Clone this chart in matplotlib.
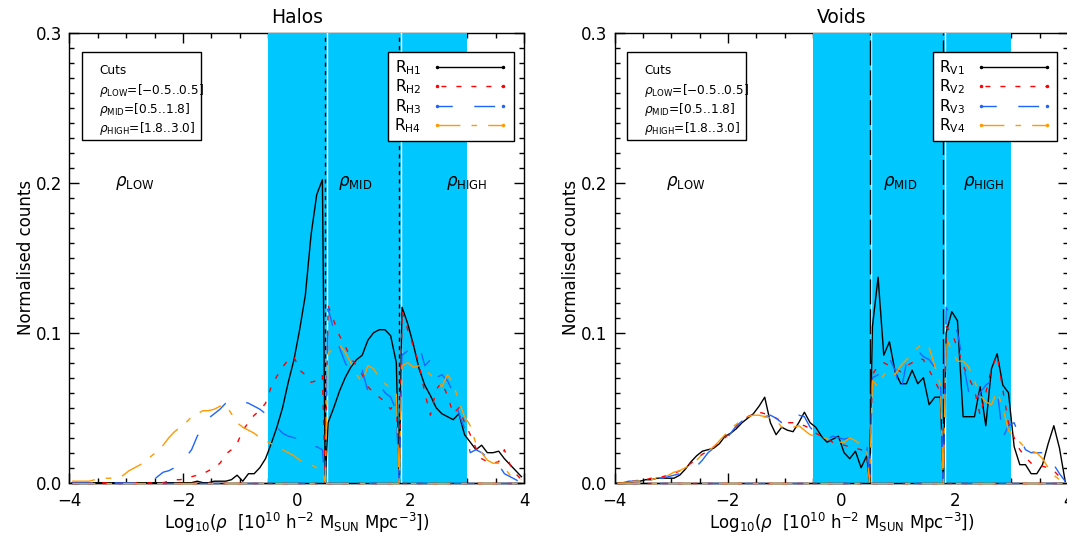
import numpy as np
import matplotlib
matplotlib.use('Agg')
import matplotlib.pyplot as plt
from matplotlib.lines import Line2D
from matplotlib.patches import Rectangle
import matplotlib.transforms as mtransforms
from matplotlib.ticker import MultipleLocator, FixedLocator, FixedFormatter

plt.rcParams['font.family'] = ['DejaVu Sans']
plt.rcParams['mathtext.fontset'] = 'dejavusans'

# ---------------- data ----------------
bin_centres = np.round(np.arange(-3.95, 4.0, 0.1), 2)   # 80 histogram bins, width 0.1
cuts = [0.5, 1.8]              # density cuts (vertical lines)
shade_range = [-0.5, 3.0]      # shaded band
region_labels = [r'$\rho_{\rm LOW}$', r'$\rho_{\rm MID}$', r'$\rho_{\rm HIGH}$']
halo_label_x = [-2.85, 1.03, 2.99]
void_label_x = [-2.74, 1.04, 2.51]
label_y = 0.2
cut_text = ['Cuts', r'$\rho_{\rm LOW}$=[$-$0.5..0.5]', r'$\rho_{\rm MID}$=[0.5..1.8]',
            r'$\rho_{\rm HIGH}$=[1.8..3.0]']

# Halos
RH1 = [0, 0, 0, 0, 0, 0, 0, 0, 0, 0,
       0, 0, 0, 0, 0, 0, 0, 0, 0, 0,
       0, 0, 0.001, 0, 0, 0.001, 0.001, 0.001, 0.002, 0.005,
       0.001, 0.006, 0.006, 0.010, 0.016, 0.026, 0.037, 0.050, 0.067, 0.082,
       0.102, 0.125, 0.165, 0.192, 0.202,
       0.040, 0.050, 0.061, 0.070, 0.077, 0.082, 0.085, 0.095, 0.100, 0.102, 0.102, 0.098, 0.080,
       0.117, 0.106, 0.092, 0.076, 0.065, 0.058, 0.050, 0.046, 0.044, 0.042, 0.046, 0.032,
       0.027, 0.022, 0.025, 0.020, 0.020, 0.021, 0.016, 0.012, 0.008, 0.004]
RH2 = [0, 0, 0, 0, 0, 0, 0, 0, 0, 0,
       0, 0, 0, 0, 0, 0, 0, 0.001, 0.002, 0.002,
       0.003, 0.004, 0.005, 0.006, 0.008, 0.010, 0.013, 0.019, 0.022, 0.026,
       0.035, 0.040, 0.045, 0.048, 0.053, 0.064, 0.071, 0.077, 0.082, 0.084,
       0.075, 0.072, 0.067, 0.068, 0.072,
       0.118, 0.108, 0.098, 0.091, 0.083, 0.078, 0.072, 0.064, 0.060, 0.057, 0.054, 0.049, 0.055,
       0.115, 0.102, 0.091, 0.079, 0.060, 0.045, 0.062, 0.067, 0.058, 0.046, 0.050, 0.040,
       0.032, 0.023, 0.016, 0.014, 0.013, 0.014, 0.022, 0.012, 0.006, 0.002]
RH3 = [0, 0, 0, 0, 0, 0, 0, 0, 0, 0,
       0, 0, 0, 0, 0.001, 0.004, 0.007, 0.008, 0.010, 0.013,
       0.017, 0.022, 0.031, 0.037, 0.043, 0.046, 0.049, 0.053, 0.055, 0.055,
       0.054, 0.053, 0.051, 0.049, 0.046, 0.043, 0.037, 0.033, 0.031, 0.030,
       0.029, 0.027, 0.024, 0.024, 0.022,
       0.116, 0.102, 0.090, 0.080, 0.073, 0.072, 0.075, 0.061, 0.063, 0.066, 0.060, 0.057, 0.048,
       0.085, 0.088, 0.090, 0.092, 0.078, 0.082, 0.070, 0.072, 0.068, 0.060, 0.046, 0.036,
       0.020, 0.022, 0.020, 0.017, 0.015, 0.012, 0.006, 0.004, 0.002, 0]
RH4 = [0.001, 0.001, 0.001, 0.001, 0.002, 0.002, 0.003, 0.003, 0.003, 0.005,
       0.008, 0.010, 0.012, 0.015, 0.018, 0.021, 0.025, 0.030, 0.034, 0.037,
       0.040, 0.044, 0.046, 0.048, 0.048, 0.049, 0.051, 0.052, 0.046, 0.040,
       0.037, 0.035, 0.033, 0.030, 0.028, 0.026, 0.024, 0.022, 0.020, 0.018,
       0.015, 0.013, 0.012, 0.010, 0.008,
       0.086, 0.090, 0.092, 0.087, 0.080, 0.072, 0.067, 0.078, 0.076, 0.070, 0.066, 0.063, 0.060,
       0.078, 0.080, 0.077, 0.078, 0.075, 0.072, 0.068, 0.064, 0.072, 0.066, 0.054, 0.044,
       0.038, 0.026, 0.020, 0.015, 0.013, 0.013, 0.010, 0.005, 0.003, 0.002]

# Voids
RV1 = [0, 0, 0, 0.001, 0.001, 0.002, 0.002, 0.003, 0.003, 0.003,
       0.003, 0.005, 0.009, 0.014, 0.018, 0.021, 0.022, 0.023, 0.026, 0.031,
       0.033, 0.036, 0.040, 0.043, 0.046, 0.051, 0.057, 0.040, 0.032, 0.037,
       0.035, 0.034, 0.040, 0.047, 0.040, 0.037, 0.031, 0.027, 0.029, 0.031,
       0.020, 0.016, 0.021, 0.010, 0.018,
       0.104, 0.137, 0.085, 0.094, 0.074, 0.066, 0.066, 0.075, 0.066, 0.070, 0.052, 0.057, 0.057,
       0.100, 0.114, 0.108, 0.044, 0.044, 0.044, 0.064, 0.038, 0.076, 0.086, 0.065, 0.060,
       0.024, 0.012, 0.012, 0.006, 0.006, 0.012, 0.026, 0.038, 0.023, 0.001]
RV2 = [0, 0, 0.001, 0.001, 0.002, 0.002, 0.003, 0.003, 0.004, 0.005,
       0.006, 0.008, 0.010, 0.013, 0.016, 0.019, 0.021, 0.024, 0.027, 0.030,
       0.034, 0.037, 0.041, 0.044, 0.046, 0.047, 0.046, 0.045, 0.043, 0.041,
       0.040, 0.040, 0.039, 0.038, 0.036, 0.033, 0.031, 0.029, 0.027, 0.026,
       0.025, 0.024, 0.023, 0.022, 0.020,
       0.072, 0.078, 0.080, 0.078, 0.076, 0.074, 0.078, 0.080, 0.083, 0.082, 0.075, 0.068, 0.060,
       0.104, 0.100, 0.090, 0.078, 0.070, 0.062, 0.045, 0.060, 0.076, 0.085, 0.062, 0.040,
       0.030, 0.022, 0.017, 0.013, 0.012, 0.011, 0.010, 0.008, 0.004, 0.001]
RV3 = [0, 0, 0.001, 0.001, 0.002, 0.002, 0.003, 0.003, 0.003, 0.004,
       0.005, 0.006, 0.008, 0.010, 0.011, 0.015, 0.020, 0.023, 0.024, 0.028,
       0.033, 0.038, 0.041, 0.042, 0.042, 0.043, 0.044, 0.045, 0.043, 0.040,
       0.038, 0.042, 0.045, 0.044, 0.037, 0.033, 0.030, 0.029, 0.031, 0.030,
       0.029, 0.030, 0.029, 0.027, 0.026,
       0.070, 0.072, 0.076, 0.083, 0.075, 0.060, 0.080, 0.086, 0.088, 0.084, 0.082, 0.077, 0.070,
       0.117, 0.110, 0.100, 0.080, 0.060, 0.052, 0.060, 0.065, 0.068, 0.062, 0.030, 0.038,
       0.040, 0.030, 0.022, 0.020, 0.020, 0.020, 0.020, 0.012, 0.006, 0.001]
RV4 = [0, 0, 0, 0.001, 0.001, 0.002, 0.002, 0.003, 0.003, 0.005,
       0.007, 0.008, 0.010, 0.012, 0.015, 0.019, 0.021, 0.024, 0.028, 0.032,
       0.036, 0.039, 0.042, 0.044, 0.045, 0.045, 0.044, 0.043, 0.042, 0.037,
       0.036, 0.037, 0.038, 0.035, 0.032, 0.031, 0.031, 0.029, 0.028, 0.027,
       0.027, 0.030, 0.028, 0.025, 0.022,
       0.068, 0.064, 0.072, 0.075, 0.072, 0.078, 0.082, 0.086, 0.090, 0.093, 0.090, 0.078, 0.065,
       0.097, 0.088, 0.081, 0.081, 0.077, 0.068, 0.058, 0.054, 0.052, 0.061, 0.050, 0.035,
       0.030, 0.027, 0.023, 0.021, 0.020, 0.016, 0.010, 0.005, 0.002, 0]

halo_series = [RH1, RH2, RH3, RH4]
void_series = [RV1, RV2, RV3, RV4]
halo_names = [r'R$_{\rm H1}$', r'R$_{\rm H2}$', r'R$_{\rm H3}$', r'R$_{\rm H4}$']
void_names = [r'R$_{\rm V1}$', r'R$_{\rm V2}$', r'R$_{\rm V3}$', r'R$_{\rm V4}$']

# ---------------- styles ----------------
SHADE = '#00C8FF'
styles = [
    dict(color='black', lw=1.0, ls='-'),
    dict(color='#FF0000', lw=1.0, ls=(0, (3.6, 7.2))),
    dict(color='#1E64FF', lw=1.0, ls=(0, (15, 15.5))),
    dict(color='#FF9900', lw=1.0, ls=(0, (16.5, 8, 4, 8))),
]
legend_offsets = [0, 8, 4, 0]


def plot_curve(ax, y, style):
    y = np.asarray(y, dtype=float)
    lo = bin_centres < cuts[0]
    mid = (bin_centres > cuts[0]) & (bin_centres < cuts[1])
    hi = bin_centres > cuts[1]
    xs = np.concatenate([bin_centres[lo], [cuts[0], cuts[0]], bin_centres[mid],
                         [cuts[1], cuts[1]], bin_centres[hi]])
    ys = np.concatenate([y[lo], [0, 0], y[mid], [0, 0], y[hi]])
    ax.plot(xs, ys, zorder=3, **style)
    # zero part of the per-region histograms along the bottom
    ax.plot(bin_centres, np.zeros_like(y), zorder=4, clip_on=False, **style)


def setup_panel(ax, title, series, names, label_x, cut_ls):
    ax.set_xlim(-4, 4)
    ax.set_ylim(0, 0.3)
    ax.axvspan(shade_range[0], shade_range[1], color=SHADE, lw=0, zorder=2.6)
    for c in cuts:
        wl = ax.axvline(c, color='white', lw=1.0, zorder=2.7)
        wl.set_transform(mtransforms.offset_copy(wl.get_transform(), fig=ax.figure,
                                                 x=1.5, y=0, units='dots'))
        ax.axvline(c, color='black', lw=1.0, ls=cut_ls, zorder=2.7)
    for y, st in zip(series, styles):
        plot_curve(ax, y, st)

    for lx, lab in zip(label_x, region_labels):
        ax.text(lx, label_y, lab, ha='center', va='center', fontsize=12, zorder=5)

    # cuts box
    ax.add_patch(Rectangle((0.027, 0.761), 0.262, 0.196, transform=ax.transAxes,
                           facecolor='white', edgecolor='black', lw=1.0, zorder=6))
    ty = [0.917, 0.872, 0.830, 0.788]
    for t, yy in zip(cut_text, ty):
        ax.text(0.066, yy, t, transform=ax.transAxes, fontsize=8.7, va='center',
                ha='left', zorder=7)

    handles = []
    for st, off in zip(styles, legend_offsets):
        s = dict(st)
        if isinstance(s['ls'], tuple):
            s['ls'] = (off, s['ls'][1])
        handles.append(Line2D([], [], marker='.', ms=3, **s))
    leg = ax.legend(handles, names, loc='upper right', bbox_to_anchor=(0.9765, 0.9575),
                    bbox_transform=ax.transAxes, borderaxespad=0, markerfirst=False,
                    numpoints=2, handlelength=4.9, handletextpad=0.75, labelspacing=0.05,
                    borderpad=0.4, fontsize=11, frameon=True, fancybox=False,
                    edgecolor='black', framealpha=1, facecolor='white')
    leg.get_frame().set_linewidth(1.0)
    leg.set_zorder(7)

    ax.xaxis.set_major_locator(FixedLocator([-4, -2, 0, 2, 4]))
    ax.xaxis.set_minor_locator(MultipleLocator(0.5))
    ax.yaxis.set_major_locator(FixedLocator([0.0, 0.1, 0.2, 0.3]))
    ax.yaxis.set_major_formatter(FixedFormatter(['0.0', '0.1', '0.2', '0.3']))
    ax.yaxis.set_minor_locator(MultipleLocator(0.01))
    ax.tick_params(which='both', direction='in', top=True, right=True, width=1.0)
    ax.tick_params(which='major', length=7, labelsize=12)
    ax.tick_params(which='minor', length=3.5)
    ax.tick_params(axis='y', pad=5)
    ax.tick_params(axis='x', pad=7)
    for sp in ax.spines.values():
        sp.set_linewidth(1.0)
    ax.set_title(title, fontsize=13.5, pad=6.8)
    ax.set_ylabel('Normalised counts', fontsize=12, labelpad=1)
    ax.set_xlabel(r'Log$_{10}$($\rho$  [10$^{10}$ h$^{-2}$ M$_{\rm SUN}$ Mpc$^{-3}$])',
                  fontsize=12, labelpad=0)


fig = plt.figure(figsize=(10.67, 5.33), dpi=100)
ax1 = fig.add_axes([69.3 / 1067, 1 - 482.7 / 533, 455 / 1067, 450 / 533])
ax2 = fig.add_axes([614.5 / 1067, 1 - 482.7 / 533, 453.5 / 1067, 450 / 533])

setup_panel(ax1, 'Halos', halo_series, halo_names, halo_label_x, (0, (3, 3)))
setup_panel(ax2, 'Voids', void_series, void_names, void_label_x, (0, (18, 3.5)))

fig.savefig('out.png', dpi=100)
